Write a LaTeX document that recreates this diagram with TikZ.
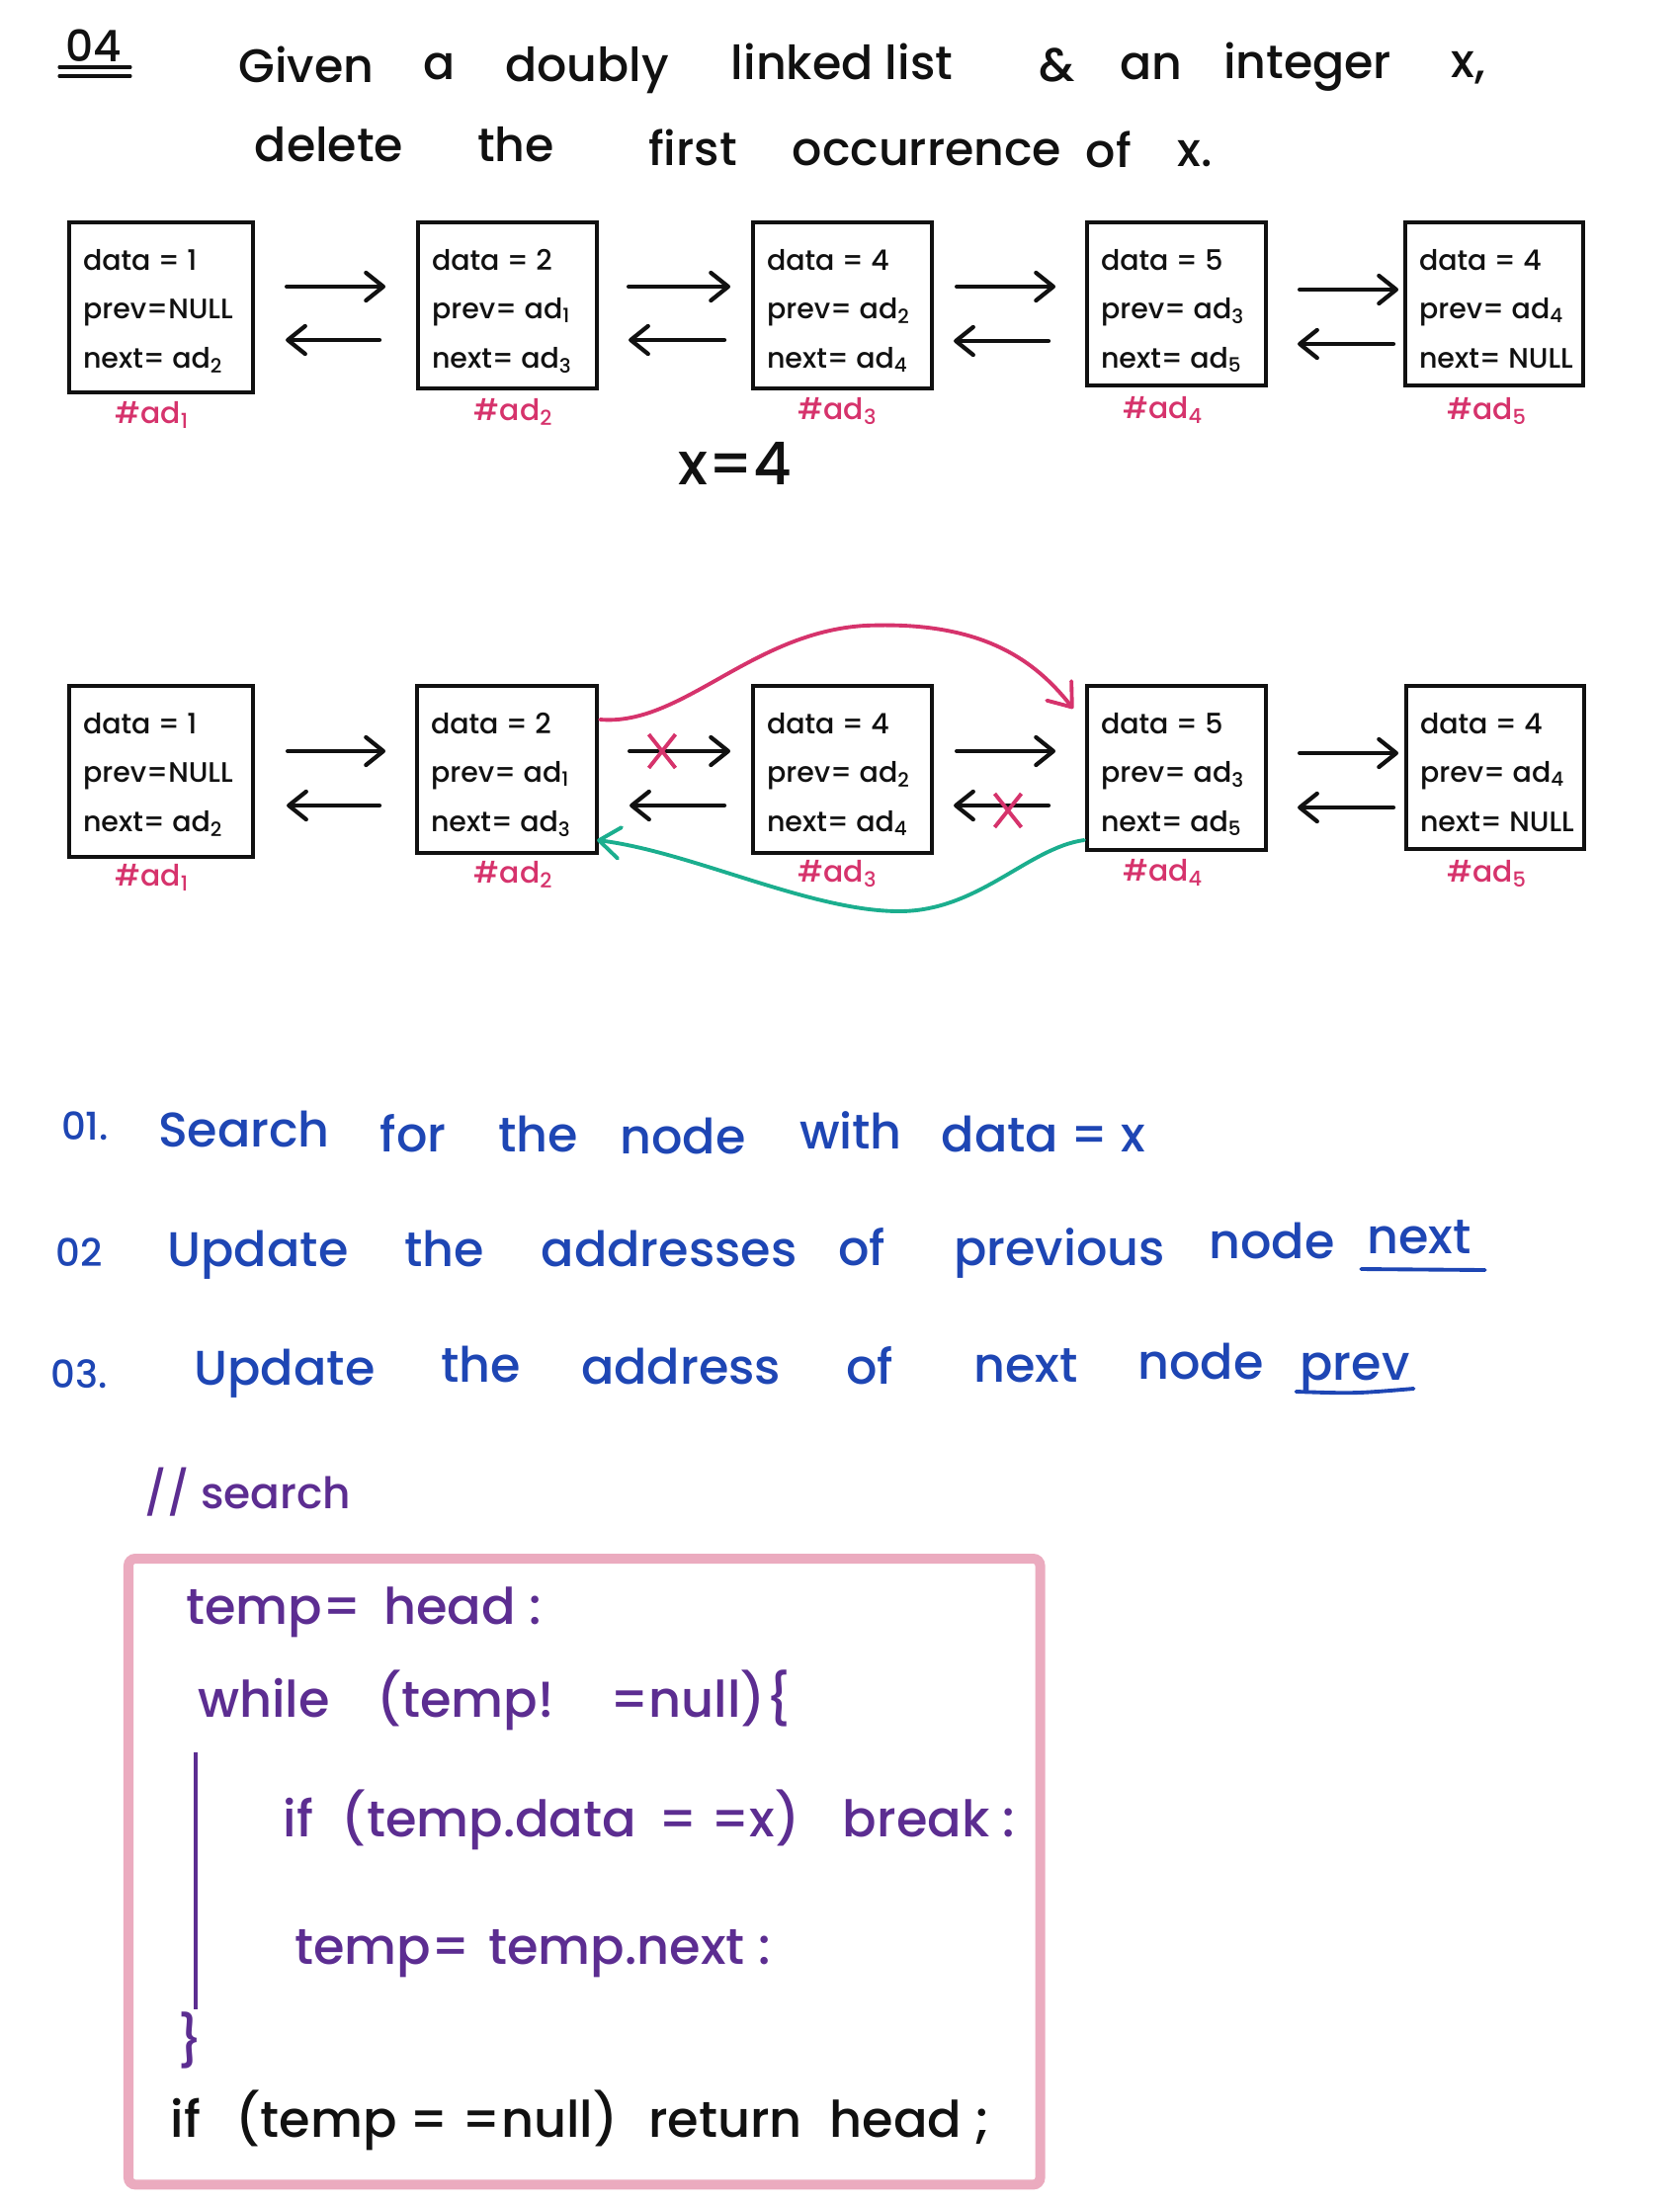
\documentclass[tikz,border=0pt]{standalone}
\usepackage{fontspec}
\setmainfont{Poppins}[UprightFont={* Medium}]
\usetikzlibrary{arrows.meta,calc,shapes.misc}

\definecolor{ink}{HTML}{111111}
\definecolor{rosered}{HTML}{D6336C}
\definecolor{stepblue}{HTML}{1E46B4}
\definecolor{codepurple}{HTML}{5C2D91}
\definecolor{tealink}{HTML}{1BAE8E}
\definecolor{framepink}{HTML}{EBABBF}

% one pair of links between two neighbouring cells:
% #1 left cell, #2 right cell, #3/#4 forward start/end x offsets,
% #5/#6 backward tail/tip x offsets, #7/#8 forward/backward y offsets
\newcommand\linkpair[8]{%
  \draw[link] ($(#1.north east)+(#3,#7)$) -- ($(#2.north west)+(#4,#7)$);
  \draw[link] ($(#2.north west)+(#5,#8)$) -- ($(#1.north east)+(#6,#8)$);
}
% the three text lines of a cell
\newcommand\celllines[4]{%
  \node[celltxt] (#1-d) at ($(#1.north west)+(14,48)$) {#2};
  \node[celltxt] (#1-p) at ($(#1.north west)+(14,97)$) {#3};
  \node[celltxt] (#1-n) at ($(#1.north west)+(14,147)$) {#4};
}

\begin{document}
\begin{tikzpicture}[x=0.01cm,y=-0.01cm,
  every node/.style={inner sep=0pt, outer sep=0pt},
  ttl/.style={font=\fontsize{13.5}{16}\selectfont, anchor=base, text=ink},
  cellbox/.style={draw=ink, line width=1.1pt, anchor=north west},
  celltxt/.style={font=\fontsize{8.1}{10}\selectfont, anchor=base west, text=ink},
  addr/.style={font=\fontsize{8.5}{10}\selectfont, anchor=base, text=rosered},
  link/.style={draw=ink, line width=1.2pt, line cap=round,
    -{Straight Barb[length=5pt,width=8pt,round]}},
  xmark/.style={cross out, draw=rosered, line width=1.1pt,
    minimum width=0.27cm, minimum height=0.34cm},
  curvelink/.style={line width=1.1pt, line cap=round,
    -{Straight Barb[length=6pt,width=9pt,round]}},
  stepw/.style={font=\fontsize{14}{16}\selectfont, anchor=base, text=stepblue},
  stepn/.style={font=\fontsize{11}{13}\selectfont, anchor=base, text=stepblue},
  codew/.style={font=\fontsize{14.5}{17}\selectfont, anchor=base, text=codepurple},
  codeblack/.style={font=\fontsize{14.5}{17}\selectfont, anchor=base, text=ink},
]
\fill[white] (0,0) rectangle (1700,2232);
\useasboundingbox (0,0) rectangle (1700,2232);

% ---------- question ----------
\node[ttl, font=\fontsize{12.5}{14}\selectfont] (q04) at (95,62) {04};
\draw[ink, line width=0.9pt, line cap=round] (60,68) -- (132,68);
\draw[ink, line width=0.9pt, line cap=round] (60,77) -- (132,77);

\node[ttl] (t1) at (310,83) {Given};
\node[ttl] (t2) at (445,80) {a};
\node[ttl] (t3) at (594,82) {doubly};
\node[ttl] (t4) at (852,80) {linked list};
\node[ttl] (t5) at (1070,82) {\&};
\node[ttl] (t6) at (1165,80) {an};
\node[ttl] (t7) at (1323,79) {integer};
\node[ttl] (t8) at (1486,78) {x,};

\node[ttl] (u1) at (333,163) {delete};
\node[ttl] (u2) at (522,163) {the};
\node[ttl] (u3) at (701,167) {first};
\node[ttl] (u4) at (938,167) {occurrence};
\node[ttl] (u5) at (1122,169) {of};
\node[ttl] (u6) at (1209,168) {x.};

% ---------- original list ----------
\node[cellbox, minimum width=1.86cm, minimum height=1.72cm] (b1) at (70,225) {};
\node[cellbox, minimum width=1.81cm, minimum height=1.68cm] (b2) at (423,225) {};
\node[cellbox, minimum width=1.81cm, minimum height=1.68cm] (b3) at (762,225) {};
\node[cellbox, minimum width=1.81cm, minimum height=1.65cm] (b4) at (1100,225) {};
\node[cellbox, minimum width=1.80cm, minimum height=1.65cm] (b5) at (1422,225) {};

\celllines{b1}{data = 1}{prev=NULL}{next= ad\textsubscript{2}}
\celllines{b2}{data = 2}{prev= ad\textsubscript{1}}{next= ad\textsubscript{3}}
\celllines{b3}{data = 4}{prev= ad\textsubscript{2}}{next= ad\textsubscript{4}}
\celllines{b4}{data = 5}{prev= ad\textsubscript{3}}{next= ad\textsubscript{5}}
\celllines{b5}{data = 4}{prev= ad\textsubscript{4}}{next= NULL}

\linkpair{b1}{b2}{34}{-33}{-39}{33}{65}{119}
\linkpair{b2}{b3}{32}{-23}{-29}{32}{65}{119}
\linkpair{b3}{b4}{25}{-32}{-39}{22}{65}{120}
\linkpair{b4}{b5}{34}{-7}{-12}{32}{68}{123}

\node[addr] (ab1) at (154,428) {\#ad\textsubscript{1}};
\node[addr] (ab2) at (520,425) {\#ad\textsubscript{2}};
\node[addr] (ab3) at (848,424) {\#ad\textsubscript{3}};
\node[addr] (ab4) at (1177,423) {\#ad\textsubscript{4}};
\node[addr] (ab5) at (1505,424) {\#ad\textsubscript{5}};

\node[ttl, font=\fontsize{17}{19}\selectfont] (xval) at (744,490) {x=4};

% ---------- list after unlinking ----------
\node[cellbox, minimum width=1.86cm, minimum height=1.73cm] (c1) at (70,694) {};
\node[cellbox, minimum width=1.82cm, minimum height=1.69cm] (c2) at (422,694) {};
\node[cellbox, minimum width=1.81cm, minimum height=1.69cm] (c3) at (762,694) {};
\node[cellbox, minimum width=1.81cm, minimum height=1.66cm] (c4) at (1100,694) {};
\node[cellbox, minimum width=1.80cm, minimum height=1.65cm] (c5) at (1423,694) {};

\celllines{c1}{data = 1}{prev=NULL}{next= ad\textsubscript{2}}
\celllines{c2}{data = 2}{prev= ad\textsubscript{1}}{next= ad\textsubscript{3}}
\celllines{c3}{data = 4}{prev= ad\textsubscript{2}}{next= ad\textsubscript{4}}
\celllines{c4}{data = 5}{prev= ad\textsubscript{3}}{next= ad\textsubscript{5}}
\celllines{c5}{data = 4}{prev= ad\textsubscript{4}}{next= NULL}

\linkpair{c1}{c2}{35}{-32}{-38}{34}{66}{121}
\linkpair{c2}{c3}{33}{-23}{-29}{33}{66}{121}
\linkpair{c3}{c4}{25}{-32}{-39}{22}{66}{121}
\linkpair{c4}{c5}{34}{-8}{-13}{32}{68}{123}

\node[addr] (ac1) at (154,896) {\#ad\textsubscript{1}};
\node[addr] (ac2) at (520,893) {\#ad\textsubscript{2}};
\node[addr] (ac3) at (848,892) {\#ad\textsubscript{3}};
\node[addr] (ac4) at (1177,891) {\#ad\textsubscript{4}};
\node[addr] (ac5) at (1505,892) {\#ad\textsubscript{5}};

% broken links
\node[xmark] (cut1) at (670,760) {};
\node[xmark] (cut2) at (1020,820) {};

% new next link of cell 2 and new prev link of cell 4
\coordinate (pkS) at ($(c2.north east)+(3,34)$);
\coordinate (pkE) at ($(c4.north west)+(-14,23)$);
\draw[curvelink, rosered] (pkS) .. controls (690,735) and (760,640) .. (875,633)
  .. controls (990,628) and (1045,665) .. (pkE);
\coordinate (tlS) at ($(c4.north west)+(-3,156)$);
\coordinate (tlE) at ($(c2.north east)+(0,156)$);
\draw[curvelink, tealink] (tlS) .. controls (1040,858) and (990,922) .. (910,922)
  .. controls (820,922) and (700,862) .. (tlE);

% ---------- steps ----------
\node[stepn] (s1n) at (86,1153) {01.};
\node[stepw] (s1a) at (247,1160) {Search};
\node[stepw] (s1b) at (418,1165) {for};
\node[stepw] (s1c) at (545,1165) {the};
\node[stepw] (s1d) at (691,1167) {node};
\node[stepw] (s1e) at (861,1162) {with};
\node[stepw] (s1f) at (1056,1165) {data = x};

\node[stepn] (s2n) at (80,1281) {02};
\node[stepw] (s2a) at (261,1281) {Update};
\node[stepw] (s2b) at (450,1281) {the};
\node[stepw] (s2c) at (677,1281) {addresses};
\node[stepw] (s2d) at (872,1280) {of};
\node[stepw] (s2e) at (1072,1280) {previous};
\node[stepw] (s2f) at (1287,1273) {node};
\node[stepw] (s2g) at (1436,1268) {next};
\draw[stepblue, line width=1.1pt, line cap=round]
  ($(s2g.base west)+(-6,16)$) -- ($(s2g.base east)+(14,17)$);

\node[stepn] (s3n) at (80,1404) {03.};
\node[stepw] (s3a) at (288,1401) {Update};
\node[stepw] (s3b) at (487,1398) {the};
\node[stepw] (s3c) at (689,1400) {address};
\node[stepw] (s3d) at (880,1400) {of};
\node[stepw] (s3e) at (1038,1398) {next};
\node[stepw] (s3f) at (1215,1395) {node};
\node[stepw] (s3g) at (1371,1396) {prev};
\draw[stepblue, line width=1.1pt, line cap=round]
  ($(s3g.base west)+(-4,12)$) .. controls ($(s3g.base)+(0,14)$) .. ($(s3g.base east)+(4,9)$);

% ---------- search code ----------
\node[codew, font=\fontsize{12.5}{15}\selectfont] (cm) at (251,1526) {// search};

\node[draw=framepink, line width=2.85pt, rounded corners=2pt, anchor=north west,
  minimum width=9.22cm, minimum height=6.33cm] (codebox) at (130,1577) {};

\node[codew] (k1a) at (277,1643) {temp=};
\node[codew] (k1b) at (468,1643) {head :};

\node[codew] (k2a) at (267,1737) {while};
\node[codew] (k2b) at (471,1737) {(temp!};
\node[codew] (k2c) at (709,1737) {=null)\{};

\draw[codepurple, line width=1.2pt] (198,1773) -- (198,2033);

\node[codew] (k3a) at (302,1858) {if};
\node[codew] (k3b) at (495,1858) {(temp.data};
\node[codew] (k3c) at (738,1858) {= =x)};
\node[codew] (k3d) at (940,1858) {break :};

\node[codew] (k4a) at (387,1987) {temp=};
\node[codew] (k4b) at (637,1987) {temp.next :};

\node[codew] (k5) at (193,2083) {\}};

\node[codeblack] (k6a) at (188,2162) {if};
\node[codeblack] (k6b) at (432,2162) {(temp = =null)};
\node[codeblack] (k6c) at (734,2162) {return};
\node[codeblack] (k6d) at (921,2162) {head ;};
\end{tikzpicture}
\end{document}
